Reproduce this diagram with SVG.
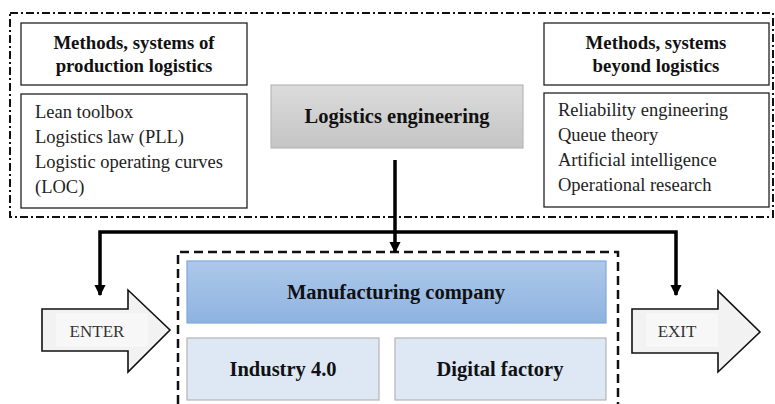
<svg xmlns="http://www.w3.org/2000/svg" width="775" height="404" viewBox="0 0 775 404">
<defs>
<style>
text{font-family:"Liberation Serif","Times New Roman","DejaVu Serif",serif}
.box{fill:#fff;stroke:#222;stroke-width:1.3}
.hd{font-weight:bold;font-size:18.8px;fill:#111;text-anchor:middle}
.li{font-size:18.5px;fill:#222}
.big{font-weight:bold;font-size:20.5px;fill:#111;text-anchor:middle}
.sub{fill:#dde8f4;stroke:#b4b4b4;stroke-width:1.2}
.arr{fill:#f2f2f2;stroke:#111;stroke-width:1.6}
.lbl{font-size:17px;fill:#333;text-anchor:middle}
.con{fill:none;stroke:#000;stroke-width:3.5}
</style>
<linearGradient id="gGray" x1="0" y1="0" x2="0" y2="1">
<stop offset="0" stop-color="#dcdcdc"/><stop offset="1" stop-color="#c4c4c4"/>
</linearGradient>
<linearGradient id="gBlue" x1="0" y1="0" x2="0" y2="1">
<stop offset="0" stop-color="#adc8ea"/><stop offset="1" stop-color="#8eb3e0"/>
</linearGradient>
<marker id="ah" viewBox="0 0 10 10" refX="9" refY="5" markerWidth="3.2" markerHeight="3.2" orient="auto" markerUnits="strokeWidth">
<path d="M0,0 L10,5 L0,10 z" fill="#000"/>
</marker>
</defs>
<rect width="775" height="404" fill="#fff"/>
<g id="frame-top">
<rect x="10" y="13" width="763" height="204" fill="none" stroke="#111" stroke-width="2" stroke-dasharray="8,3,2,3"/>
</g>
<g id="frame-company">
<path d="M178,404 V252 H618 V404" fill="none" stroke="#111" stroke-width="2.5" stroke-dasharray="9,5"/>
</g>
<g id="node-prod-head">
<rect class="box" x="21" y="23" width="226" height="62"/>
<text class="hd" x="134" y="49">Methods, systems of</text>
<text class="hd" x="134" y="72">production logistics</text>
</g>
<g id="node-prod-list">
<rect class="box" x="21" y="94" width="226" height="114"/>
<text class="li" x="35" y="118">Lean toolbox</text>
<text class="li" x="35" y="143">Logistics law (PLL)</text>
<text class="li" x="35" y="168">Logistic operating curves</text>
<text class="li" x="35" y="193">(LOC)</text>
</g>
<g id="node-beyond-head">
<rect class="box" x="544" y="23" width="225" height="62"/>
<text class="hd" x="656" y="49">Methods, systems</text>
<text class="hd" x="656" y="72">beyond logistics</text>
</g>
<g id="node-beyond-list">
<rect class="box" x="544" y="93" width="225" height="114"/>
<text class="li" x="558" y="116">Reliability engineering</text>
<text class="li" x="558" y="141">Queue theory</text>
<text class="li" x="558" y="166">Artificial intelligence</text>
<text class="li" x="558" y="191">Operational research</text>
</g>
<g id="node-logeng">
<rect x="271" y="85" width="252" height="63" fill="url(#gGray)" stroke="#b8b8b8" stroke-width="1.2"/>
<text class="big" x="397" y="123">Logistics engineering</text>
</g>
<g id="node-manufacturing">
<rect x="187" y="261" width="419" height="62" fill="url(#gBlue)" stroke="#7fa8d8" stroke-width="1.2"/>
<text class="big" x="396" y="299">Manufacturing company</text>
</g>
<g id="node-industry">
<rect class="sub" x="187" y="338" width="192" height="62"/>
<text class="big" x="283" y="376">Industry 4.0</text>
</g>
<g id="node-digital">
<rect class="sub" x="395" y="338" width="211" height="62"/>
<text class="big" x="500" y="376">Digital factory</text>
</g>
<g id="node-enter">
<path class="arr" d="M42,309 H128 V290 L170,330 L128,372 V351 H42 Z"/>
<rect x="57" y="314" width="90" height="32" fill="#f7f7f7" stroke="#fafafa" stroke-width="1"/>
<text class="lbl" x="97" y="337">ENTER</text>
</g>
<g id="node-exit">
<path class="arr" d="M632,309 H718 V291 L760,332 L718,372 V353 H632 Z"/>
<rect x="647" y="314" width="70" height="32" fill="#f7f7f7" stroke="#fafafa" stroke-width="1"/>
<text class="lbl" x="677" y="337">EXIT</text>
</g>
<g id="connectors">
<line class="con" x1="395" y1="160" x2="395" y2="252" marker-end="url(#ah)"/>
<polyline class="con" points="395,232 100,232 100,295" marker-end="url(#ah)"/>
<polyline class="con" points="395,232 676,232 676,295" marker-end="url(#ah)"/>
</g>
</svg>
